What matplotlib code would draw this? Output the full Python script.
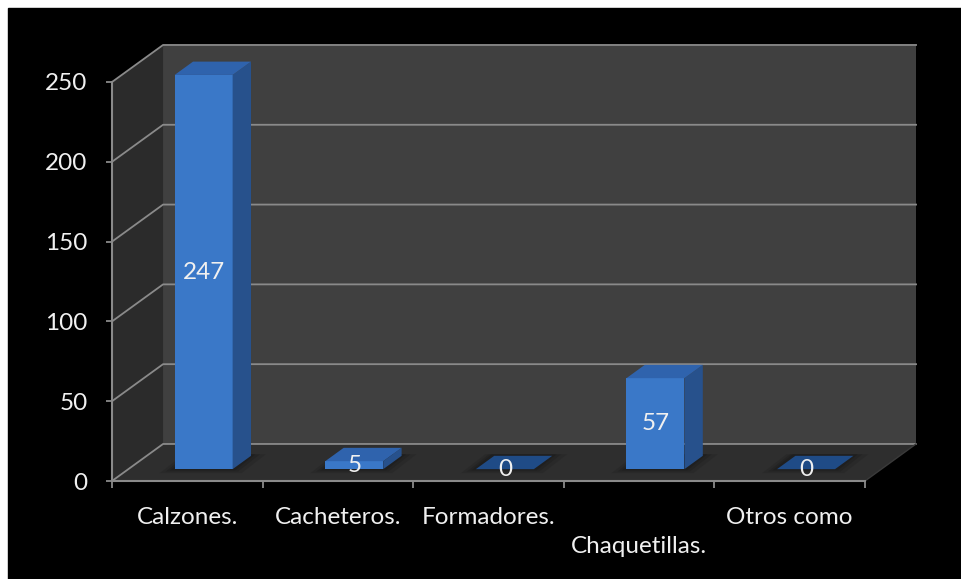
import matplotlib
matplotlib.use("Agg")
import matplotlib.pyplot as plt
from matplotlib.patches import Polygon, Rectangle

# survey counts per garment type
categories = ["Calzones.", "Cacheteros.", "Formadores.", "Chaquetillas.", "Otros como"]
values = [247, 5, 0, 57, 0]
yticks = [0, 50, 100, 150, 200, 250]

W, H = 962, 579
DX, DY = 0.339, 23.2            # depth of the box (x in categories, y in data units)
BAR_F, BAR_B = 0.32, 0.68       # front/back of each bar as a fraction of the depth
BAR_W = 0.385
FS = 17.5

WALL = "#404040"
SIDE = "#2b2b2b"
FLOOR = "#2e2e2e"
GRID = "#8a8a8a"
TXT = "#f0f0f0"
FRONT = "#3a78c8"
RIGHT = "#27518c"
TOP = "#2f63ad"

plt.rcParams["font.family"] = ["Lato", "DejaVu Sans"]

fig = plt.figure(figsize=(W / 100, H / 100), dpi=100, facecolor="white")
fig.add_artist(Rectangle((8 / W, 0), 1, 1 - 8 / H, transform=fig.transFigure,
                         color="black", zorder=0))
ax = fig.add_axes([112 / W, 1 - 481 / H, (865 - 112) / W, (481 - 82) / H])
ax.set_xlim(-0.5, 4.5)
ax.set_ylim(0, 250)
ax.patch.set_visible(False)

x0, x1 = -0.5, len(categories) - 0.5
top = yticks[-1]


def poly(pts, color, z, **kw):
    ax.add_patch(Polygon(pts, closed=True, facecolor=color, edgecolor="none",
                         zorder=z, clip_on=False, **kw))


# back wall, left wall and floor
poly([(x0 + DX, DY), (x1 + DX, DY), (x1 + DX, top + DY), (x0 + DX, top + DY)], WALL, 0.5)
poly([(x0, 0), (x0 + DX, DY), (x0 + DX, top + DY), (x0, top)], SIDE, 0.6)
poly([(x0, 0), (x1, 0), (x1 + DX, DY), (x0 + DX, DY)], FLOOR, 0.6)

for v in yticks:
    ax.plot([x0, x0 + DX, x1 + DX], [v, v + DY, v + DY], color=GRID, lw=1.3,
            zorder=0.7, clip_on=False)
ax.plot([x1, x1 + DX], [0, DY], color="#3a3a3a", lw=1, zorder=0.7, clip_on=False)

# soft floor shadows, then the bars
bd = BAR_B - BAR_F
for i, v in enumerate(values):
    cx = i + DX * BAR_F
    cy = DY * BAR_F
    a, b = cx - BAR_W / 2, cx + BAR_W / 2
    ox, oy = DX * bd, DY * bd
    for grow, alpha in ((0.10, 0.15), (0.06, 0.2), (0.03, 0.25)):
        poly([(a - grow, cy - 2.5 * grow / 0.1), (b + grow * 0.6, cy - 2.5 * grow / 0.1),
              (b + ox + grow, cy + oy + 1), (a + ox - grow * 0.6, cy + oy + 1)],
             "#111111", 0.8, alpha=alpha)
    if v > 0:
        poly([(a, cy), (b, cy), (b, cy + v), (a, cy + v)], FRONT, 3)
        poly([(b, cy), (b + ox, cy + oy), (b + ox, cy + v + oy), (b, cy + v)], RIGHT, 3)
        poly([(a, cy + v), (b, cy + v), (b + ox, cy + v + oy), (a + ox, cy + v + oy)], TOP, 3)
    else:
        poly([(a, cy), (b, cy), (b + ox, cy + oy), (a + ox, cy + oy)], "#1f4b86", 3)
    ax.text(cx, cy + v / 2, f"{v}", ha="center", va="center", color=TXT,
            fontsize=FS, zorder=4)

# front axes
for side in ("top", "right"):
    ax.spines[side].set_visible(False)
for side in ("left", "bottom"):
    ax.spines[side].set_color(GRID)
    ax.spines[side].set_linewidth(1.5)
    ax.spines[side].set_zorder(2)

ax.set_yticks(yticks)
ax.tick_params(axis="y", colors=GRID, labelcolor=TXT, labelsize=FS,
               length=4.5, width=1.3, pad=13)
ax.set_xticks([i - 0.5 for i in range(len(categories) + 1)])
ax.set_xticklabels([])
ax.tick_params(axis="x", which="major", colors=GRID, length=5, width=1.3)
ax.set_xticks(range(len(categories)), minor=True)
labels = [("\n" + c if i == 3 else c) for i, c in enumerate(categories)]
ax.set_xticklabels(labels, minor=True, linespacing=1.45)
ax.tick_params(axis="x", which="minor", length=0, labelcolor=TXT,
               labelsize=FS, pad=19)

fig.savefig("out.png", dpi=100, facecolor=fig.get_facecolor())
